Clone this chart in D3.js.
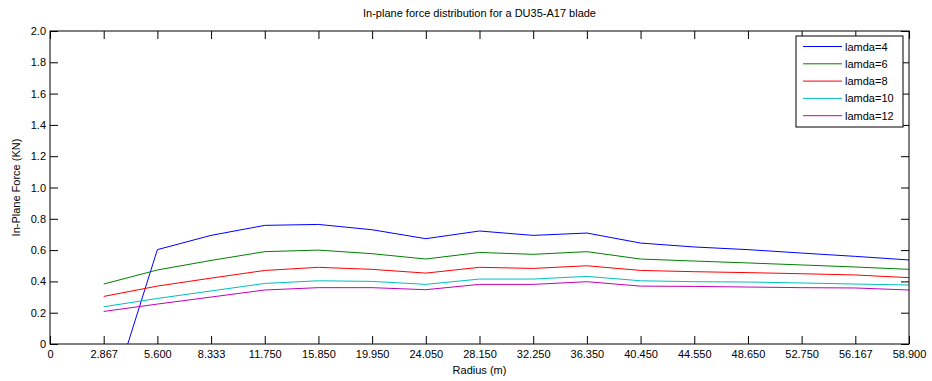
<!DOCTYPE html>
<html><head><meta charset="utf-8">
<script src="https://cdn.jsdelivr.net/npm/d3@7"></script>
<style>body{margin:0;background:#fff}svg{display:block}text{font-family:"Liberation Sans",Arial,sans-serif}</style>
</head><body><svg id="c" width="932" height="381"></svg>
<script>
const radii = ["0","2.867","5.600","8.333","11.750","15.850","19.950","24.050","28.150","32.250","36.350","40.450","44.550","48.650","52.750","56.167","58.900"];
const dataRadii = radii.slice(1);
const lamda4  = [-0.49,0.603,0.694,0.758,0.764,0.730,0.673,0.722,0.694,0.709,0.645,0.620,0.603,0.581,0.560,0.537];
const lamda6  = [0.383,0.473,0.534,0.590,0.600,0.577,0.543,0.585,0.573,0.590,0.543,0.530,0.518,0.505,0.492,0.477];
const lamda8  = [0.304,0.370,0.421,0.470,0.490,0.477,0.453,0.490,0.483,0.500,0.470,0.462,0.456,0.449,0.441,0.424];
const lamda10 = [0.238,0.291,0.339,0.387,0.404,0.400,0.381,0.415,0.415,0.432,0.404,0.398,0.396,0.390,0.383,0.377];
const lamda12 = [0.208,0.255,0.300,0.345,0.360,0.360,0.347,0.381,0.381,0.398,0.370,0.368,0.364,0.360,0.358,0.345];
const seriesNames = ["lamda=4","lamda=6","lamda=8","lamda=10","lamda=12"];
const seriesColors = ["#0000ff","#008000","#ff0000","#00bfbf","#bf00bf"];
const yTicks = [0,0.2,0.4,0.6,0.8,1.0,1.2,1.4,1.6,1.8,2.0];
const series = [lamda4,lamda6,lamda8,lamda10,lamda12];

const L=50,R=909,T=31,B=344;
const svg=d3.select("#c");
const x=d3.scalePoint().domain(radii).range([L,R]);
const y=d3.scaleLinear().domain([0,2]).range([B,T]);
const fs="11px";

svg.append("defs").append("clipPath").attr("id","clip").append("rect")
  .attr("x",L).attr("y",T).attr("width",R-L).attr("height",B-T);

const line=d3.line().x((d,i)=>x(dataRadii[i])).y(d=>y(d));
const g=svg.append("g").attr("clip-path","url(#clip)");
series.forEach((s,k)=>{
  g.append("path").datum(s).attr("d",line).attr("fill","none")
   .attr("stroke",seriesColors[k]).attr("stroke-width",1);
});

function styleAxis(sel){
  sel.select(".domain").remove();
  sel.selectAll("line").attr("stroke","#000");
  sel.selectAll("text").style("font-size",fs).attr("fill","#000").style("font-family","Liberation Sans, Arial, sans-serif");
}
const tk=8;
svg.append("g").attr("transform",`translate(0,${B})`)
  .call(d3.axisBottom(x).tickSizeInner(-tk).tickSizeOuter(0).tickPadding(6)).call(styleAxis);
svg.append("g").attr("transform",`translate(0,${T})`)
  .call(d3.axisTop(x).tickSizeInner(-tk).tickSizeOuter(0).tickFormat("")).call(styleAxis);
svg.append("g").attr("transform",`translate(${L},0)`)
  .call(d3.axisLeft(y).tickValues(yTicks).tickFormat(d=>d===0?"0":d3.format(".1f")(d)).tickSizeInner(-tk).tickSizeOuter(0).tickPadding(4)).call(styleAxis);
svg.append("g").attr("transform",`translate(${R},0)`)
  .call(d3.axisRight(y).tickValues(yTicks).tickFormat("").tickSizeInner(-tk).tickSizeOuter(0)).call(styleAxis);

svg.append("rect").attr("x",L).attr("y",T).attr("width",R-L).attr("height",B-T)
  .attr("fill","none").attr("stroke","#000").attr("stroke-width",1);

svg.append("text").attr("x",(L+R)/2).attr("y",17).attr("text-anchor","middle")
  .style("font-size",fs).text("In-plane force distribution for a DU35-A17 blade");
svg.append("text").attr("x",(L+R)/2).attr("y",374).attr("text-anchor","middle")
  .style("font-size",fs).text("Radius (m)");
svg.append("text").attr("transform",`translate(20,${(T+B)/2}) rotate(-90)`).attr("text-anchor","middle")
  .style("font-size",fs).text("In-Plane Force (KN)");

const lg=svg.append("g");
lg.append("rect").attr("x",796).attr("y",36).attr("width",107).attr("height",91)
  .attr("fill","#fff").attr("stroke","#000");
seriesNames.forEach((n,k)=>{
  const yy=46.5+k*17.3;
  lg.append("line").attr("x1",803).attr("x2",842).attr("y1",yy).attr("y2",yy).attr("stroke",seriesColors[k]);
  lg.append("text").attr("x",845).attr("y",yy+4).style("font-size",fs).text(n);
});
</script></body></html>
